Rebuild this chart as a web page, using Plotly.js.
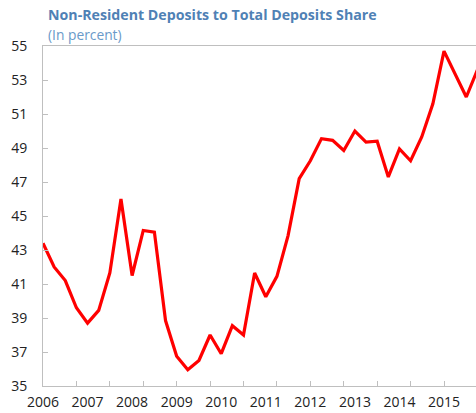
<!DOCTYPE html>
<html>
<head>
<meta charset="utf-8">
<script src="https://cdn.plot.ly/plotly-3.0.1.min.js"></script>
<style>
html,body{margin:0;padding:0;background:#fff;overflow:hidden;}
#chart{width:476px;height:413px;}
</style>
</head>
<body>
<div id="chart"></div>
<script>
// Quarterly data, 2006Q1 onward
const quarters = [
  "2006Q1","2006Q2","2006Q3","2006Q4",
  "2007Q1","2007Q2","2007Q3","2007Q4",
  "2008Q1","2008Q2","2008Q3","2008Q4",
  "2009Q1","2009Q2","2009Q3","2009Q4",
  "2010Q1","2010Q2","2010Q3","2010Q4",
  "2011Q1","2011Q2","2011Q3","2011Q4",
  "2012Q1","2012Q2","2012Q3","2012Q4",
  "2013Q1","2013Q2","2013Q3","2013Q4",
  "2014Q1","2014Q2","2014Q3","2014Q4",
  "2015Q1","2015Q2","2015Q3","2015Q4"
];
const shareValues = [
  43.4, 42.0, 41.2, 39.6,
  38.7, 39.45, 41.65, 46.0,
  41.5, 44.15, 44.05, 38.85,
  36.75, 35.95, 36.5, 38.0,
  36.9, 38.55, 38.0, 41.65,
  40.25, 41.45, 43.85, 47.2,
  48.25, 49.55, 49.45, 48.85,
  50.0, 49.35, 49.4, 47.3,
  48.95, 48.25, 49.65, 51.6,
  54.7, 53.35, 52.0, 53.6
];
const yearLabels = ["2006","2007","2008","2009","2010","2011","2012","2013","2014","2015"];
const yTicks = [35, 37, 39, 41, 43, 45, 47, 49, 51, 53, 55];

// Category positions derived from the quarter labels
const xPos = quarters.map(q => parseInt(q.slice(0,4)) + (parseInt(q.slice(5)) - 1) / 4);
const yearVals = yearLabels.map(Number);
// Excel-style tick marks every 3 categories
const tickMarkVals = xPos.filter((v, i) => i % 3 === 0);

const axisGray = '#BFBFBF';
const font = "'Open Sans', 'Noto Sans', sans-serif";

const traces = [
  {
    x: xPos, y: shareValues, type: 'scatter', mode: 'lines',
    line: {color: '#FF0000', width: 3.2},
    xaxis: 'x', yaxis: 'y', hoverinfo: 'skip', showlegend: false
  },
  {
    x: [yearVals[0]], y: [shareValues[0]], type: 'scatter', mode: 'lines',
    line: {color: 'rgba(0,0,0,0)'}, xaxis: 'x2', yaxis: 'y',
    hoverinfo: 'skip', showlegend: false
  }
];

const xRange = [2006, 2015.718];

const layout = {
  width: 476, height: 413,
  margin: {l: 42.5, r: 0, t: 45.7, b: 27.3},
  paper_bgcolor: '#fff', plot_bgcolor: '#fff',
  showlegend: false,
  xaxis: {
    range: xRange, tickmode: 'array', tickvals: tickMarkVals,
    showticklabels: false, ticks: 'inside', ticklen: 5, tickcolor: axisGray, tickwidth: 1,
    showgrid: false, zeroline: false,
    showline: true, linecolor: axisGray, linewidth: 1, mirror: true
  },
  xaxis2: {
    overlaying: 'x', range: xRange, tickmode: 'array', tickvals: yearVals, ticktext: yearLabels,
    ticks: '', showgrid: false, zeroline: false, showline: false, side: 'bottom',
    tickfont: {family: font, size: 14, color: '#222'}, ticklabelstandoff: 6
  },
  yaxis: {
    range: [35, 55], tickmode: 'array', tickvals: yTicks, ticktext: yTicks.map(String),
    ticks: 'inside', ticklen: 5, tickcolor: axisGray, tickwidth: 1,
    showgrid: false, zeroline: false,
    showline: true, linecolor: axisGray, linewidth: 1,
    tickfont: {family: font, size: 14, color: '#222'}, ticklabelstandoff: 12
  },
  annotations: [
    {
      text: '<b>Non-Resident Deposits to Total Deposits Share</b>',
      xref: 'paper', yref: 'paper', x: 0.007, y: 1, yshift: 20,
      xanchor: 'left', yanchor: 'bottom', showarrow: false,
      font: {family: font, size: 14.2, color: '#4F81B5'}
    },
    {
      text: '(In percent)',
      xref: 'paper', yref: 'paper', x: 0.007, y: 1, yshift: 0,
      xanchor: 'left', yanchor: 'bottom', showarrow: false,
      font: {family: font, size: 13.8, color: '#6A9AC9'}
    }
  ]
};

Plotly.newPlot('chart', traces, layout, {staticPlot: true, displayModeBar: false});
</script>
</body>
</html>
